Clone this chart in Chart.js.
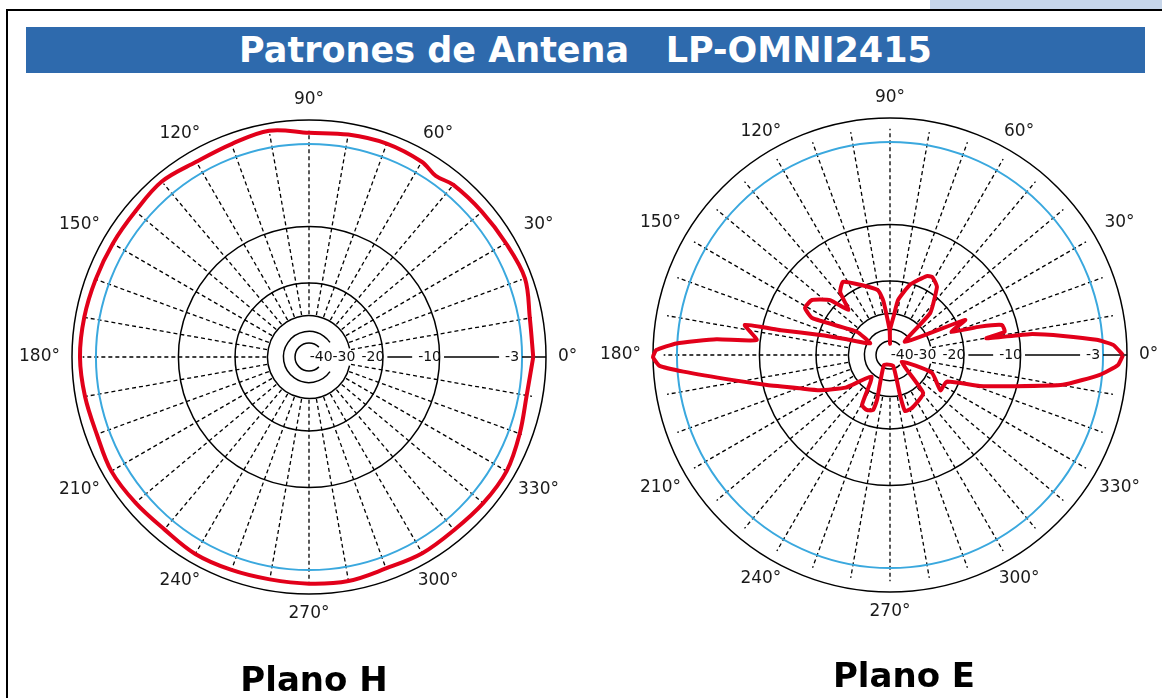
<!DOCTYPE html>
<html lang="es">
<head>
<meta charset="UTF-8">
<title>Patrones de Antena LP-OMNI2415</title>
<script src="https://cdn.jsdelivr.net/npm/chart.js"></script>
<style>
    body {
        margin: 0;
        width: 1162px;
        height: 698px;
        overflow: hidden;
        position: relative;
        background: #fff;
        font-family: "DejaVu Sans", Verdana, sans-serif;
    }
    .corner {
        position: absolute;
        left: 930px;
        top: 0;
        width: 232px;
        height: 9px;
        background: #c7d6ea;
    }
    .frame {
        position: absolute;
        left: 6px;
        top: 9px;
        width: 1200px;
        height: 720px;
        border-left: 2px solid #000;
        border-top: 2px solid #000;
    }
    .title {
        position: absolute;
        left: 26px;
        top: 27px;
        width: 1119px;
        height: 46px;
        background: #2e6aad;
        color: #fff;
        font-weight: bold;
        font-size: 35px;
        line-height: 46px;
        text-align: center;
        white-space: pre;
    }
    canvas {
        position: absolute;
    }
    #hplane { left: 10px; top: 60px; }
    #eplane { left: 600px; top: 58px; }
    .plane {
        position: absolute;
        width: 300px;
        text-align: center;
        font-weight: bold;
        font-size: 34px;
        line-height: 40px;
        color: #000;
    }
</style>
</head>
<body>
<div class="corner"></div>
<div class="frame"></div>
<div class="title">Patrones de Antena   LP-OMNI2415</div>
<canvas id="hplane" width="580" height="600"></canvas>
<canvas id="eplane" width="562" height="600"></canvas>
<div class="plane" style="left:164px; top:659px;">Plano H</div>
<div class="plane" style="left:754px; top:655px;">Plano E</div>

<script>
    // grid rings (dB) and where each one sits, as a fraction of the outer radius
    const ringDb = [0, -3, -10, -20, -30, -40, -50];
    const ringFrac = [1, 0.899, 0.551, 0.312, 0.175, 0.108, 0.059];
    const ringGap = [0, 0, 0, 0, 12, 35, 45];   // opening on the right side, degrees

    const tickDb = [-40, -30, -20, -10, -3];
    const tickLabels = ['-40', '-30', '-20', '-10', '-3'];
    const angleTicks = [0, 30, 60, 90, 120, 150, 180, 210, 240, 270, 300, 330];

    // Plano H (azimuth), gain in dB
    const hAngle = [0, 10, 20, 30, 40, 50, 55, 60, 70, 80, 90, 100, 110, 120, 130, 140, 150, 160, 170,
                    180, 190, 200, 210, 220, 230, 240, 250, 260, 270, 280, 290, 300, 310, 320, 330, 340, 350];
    const hGain = [-1.6, -1.6, -0.9, -1.2, -1.4, -1.55, -2.0, -1.45, -1.25, -1.4, -1.6, -0.9, -1.3, -1.45, -1.0, -1.3, -1.3, -1.25, -1.1,
                   -1.0, -1.2, -1.4, -1.1, -1.3, -1.5, -1.2, -1.3, -1.4, -1.3, -1.2, -1.5, -1.3, -1.4, -1.2, -1.1, -1.6, -2.0];

    // Plano E (elevation), traced path in drawing order, gain in dB
    const eAngle = [0, 2.6, 4.2, 6.3, 8.5, 9.8, 11.5, 15, 17.5, 20.7, 25, 41.6,
                    46.2, 55.3, 58.3, 61.7, 65, 74, 81.7, 84.3, 90, 90, 91, 97, 100.5, 111.8, 122.8, 128.4, 132.8,
                    137.5, 144.8, 151, 154.6, 145, 149.7, 160, 164, 167.2, 168.3, 173.6, 174.8, 176.9, 178.8, 180.5,
                    182.7, 184.6, 189.1, 193.7, 200.3, 206.6, 216.3, 229.8, 240.8, 247, 252.8, 253.9, 239,
                    286, 284, 285, 292.5, 311, 330, 337, 325, 334.8, 341, 345.9, 350.2, 354.6, 357.5];
    const eGain = [-0.5, -1.7, -3.5, -6.3, -9.1, -15.8, -12.4, -12.6, -16.4, -22.5, -18.4, -45,
                   -24.9, -18.5, -17.9, -17.4, -17.7, -20.2, -25.7, -30.8, -40.4, -52, -40.4, -26, -22.5, -19.8, -17.7, -18.9, -23.9,
                   -18.7, -16.2, -15.9, -17.9, -30.6, -42.3, -28.6, -20.4, -13.3, -8.5, -9.7, -6.3, -2.9, -0.4, 0,
                   -0.8, -3.5, -7.6, -10.7, -16.1, -19.2, -25.8, -38.2, -25.1, -24.4, -25, -28.4, -51.6,
                   -52, -30.2, -24.9, -25.1, -27.2, -50.4, -28.8, -23.8, -23.5, -16.3, -10.4, -6.2, -3.2, -1.1];

    function dbToFrac(db) {
        if (db >= 0) return 1;
        for (let i = 0; i < ringDb.length - 1; i++) {
            if (db >= ringDb[i + 1]) {
                const t = (ringDb[i] - db) / (ringDb[i] - ringDb[i + 1]);
                return ringFrac[i] + t * (ringFrac[i + 1] - ringFrac[i]);
            }
        }
        return Math.max(0, ringFrac[6] + (db + 50) * ringFrac[6] / 10);
    }

    function toPoints(angles, gains) {
        const pts = angles.map((a, i) => {
            const r = dbToFrac(gains[i]);
            const t = a * Math.PI / 180;
            return {x: r * Math.cos(t), y: r * Math.sin(t)};
        });
        pts.push(pts[0]);
        return pts;
    }

    // draws the polar grid with the chart's own x/y scales
    const polarGrid = {
        id: 'polarGrid',
        beforeDatasetsDraw(chart) {
            const ctx = chart.ctx;
            const xs = chart.scales.x, ys = chart.scales.y;
            const cx = xs.getPixelForValue(0), cy = ys.getPixelForValue(0);
            const R = xs.getPixelForValue(1) - cx;
            const pt = (f, deg) => {
                const t = deg * Math.PI / 180;
                return [xs.getPixelForValue(f * Math.cos(t)), ys.getPixelForValue(f * Math.sin(t))];
            };
            ctx.save();

            // dashed spokes every 10 degrees
            ctx.setLineDash([4, 3]);
            ctx.lineWidth = 1.3;
            ctx.strokeStyle = '#000';
            for (let a = 10; a < 360; a += 10) {
                const p0 = pt(0.18, a), p1 = pt(0.955, a);
                ctx.beginPath();
                ctx.moveTo(p0[0], p0[1]);
                ctx.lineTo(p1[0], p1[1]);
                ctx.stroke();
            }
            ctx.setLineDash([]);

            // rings
            ringDb.forEach((db, i) => {
                const g = ringGap[i] * Math.PI / 180;
                ctx.beginPath();
                ctx.arc(cx, cy, ringFrac[i] * R, g, 2 * Math.PI - g);
                ctx.strokeStyle = db === -3 ? '#3aa8de' : '#000';
                ctx.lineWidth = db === -3 ? 2 : 1.5;
                ctx.stroke();
            });

            // dB labels along the 0 degree axis: sit just inside their ring, pushed apart when crowded
            ctx.font = '14px "DejaVu Sans"';
            ctx.fillStyle = '#111';
            ctx.textBaseline = 'middle';
            ctx.textAlign = 'center';
            const boxes = tickDb.map((db, i) => {
                const w = ctx.measureText(tickLabels[i]).width;
                return {c: dbToFrac(db) * R - 10, w: w};
            });
            for (let i = 1; i < boxes.length; i++) {
                const need = (boxes[i - 1].w + boxes[i].w) / 2;
                const over = need - (boxes[i].c - boxes[i - 1].c);
                if (over > 0) {
                    boxes[i - 1].c -= over / 2;
                    boxes[i].c += over / 2;
                }
            }
            const gaps = [];
            boxes.forEach((b, i) => {
                ctx.fillText(tickLabels[i], cx + b.c, cy);
                gaps.push([cx + b.c - b.w / 2 - 6, cx + b.c + b.w / 2 + 3]);
            });
            ctx.lineWidth = 1.5;
            let x0 = gaps[2][1];
            for (let i = 3; i <= gaps.length; i++) {
                const x1 = i < gaps.length ? gaps[i][0] : cx + R;
                if (x1 > x0) {
                    ctx.beginPath();
                    ctx.moveTo(x0, cy);
                    ctx.lineTo(x1, cy);
                    ctx.stroke();
                }
                if (i < gaps.length) x0 = gaps[i][1];
            }

            // angle labels round the outside
            ctx.font = '17px "DejaVu Sans"';
            ctx.fillStyle = '#1a1a1a';
            angleTicks.forEach(a => {
                const txt = a + '\u00b0';
                const w = ctx.measureText(txt).width;
                const t = a * Math.PI / 180;
                const c = Math.abs(Math.cos(t)), s = Math.abs(Math.sin(t));
                const ext = Math.min(c > 1e-6 ? (w / 2) / c : 1e9, s > 1e-6 ? 8 / s : 1e9);
                const d = 1 + (12 + ext) / R;
                const p = pt(d, a);
                ctx.fillText(txt, p[0], p[1]);
            });
            ctx.restore();
        }
    };

    function makeChart(id, angles, gains, pad, tension) {
        return new Chart(document.getElementById(id), {
            type: 'scatter',
            data: {
                datasets: [{
                    data: toPoints(angles, gains),
                    showLine: true,
                    borderColor: '#e2001a',
                    borderWidth: 4,
                    borderJoinStyle: 'round',
                    pointRadius: 0,
                    tension: tension,
                    fill: false,
                    clip: false
                }]
            },
            options: {
                responsive: false,
                animation: false,
                layout: {padding: pad},
                plugins: {
                    legend: {display: false},
                    tooltip: {enabled: false}
                },
                scales: {
                    x: {type: 'linear', min: -1, max: 1, display: false},
                    y: {type: 'linear', min: -1, max: 1, display: false}
                }
            },
            plugins: [polarGrid]
        });
    }

    makeChart('hplane', hAngle, hGain, {left: 62, right: 44, top: 60, bottom: 66}, 0.35);
    makeChart('eplane', eAngle, eGain, {left: 53, right: 35, top: 60, bottom: 66}, 0.15);
</script>
</body>
</html>
